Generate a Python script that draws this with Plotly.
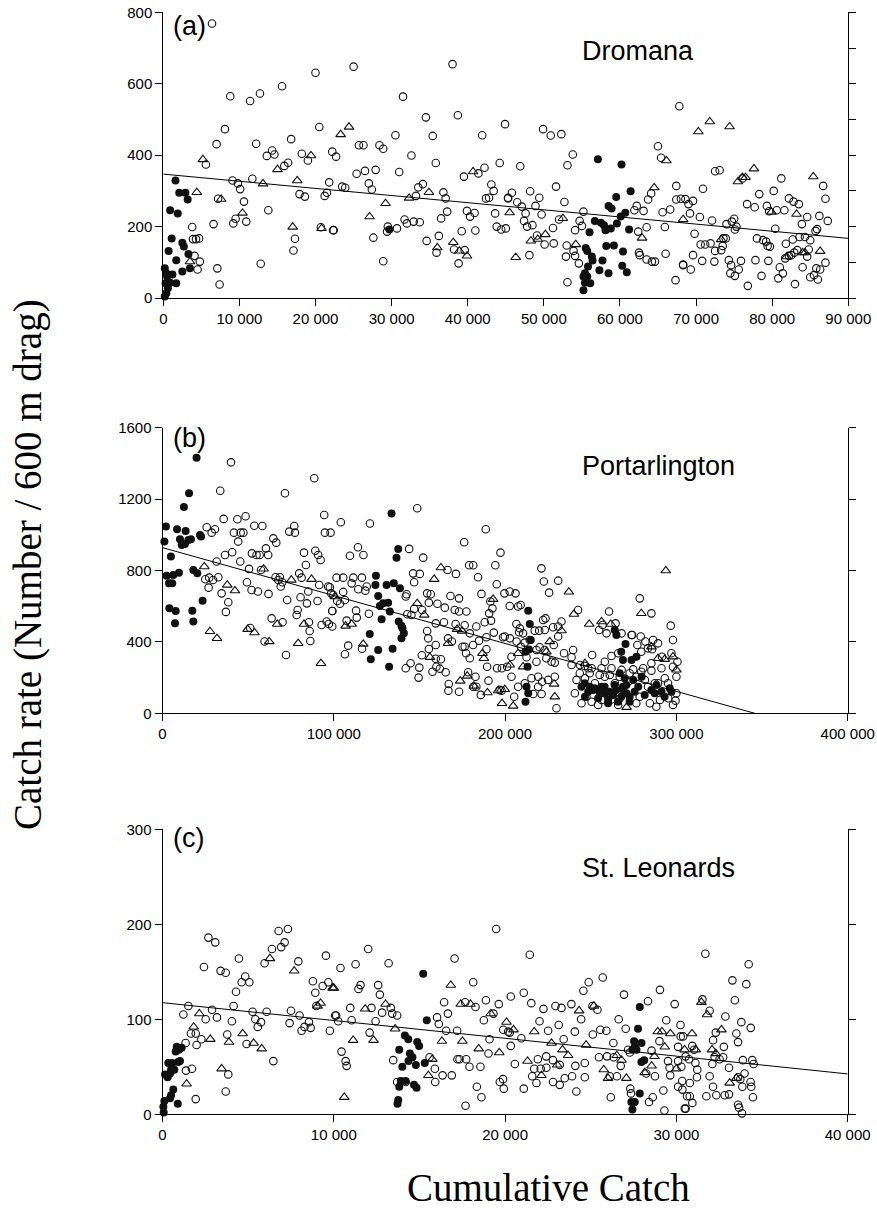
import plotly.graph_objects as go

W, H = 877, 1228

# ---------------- DATA (x in thousands of cumulative catch, y = catch rate) ----------------
# Panel (a) Dromana
dromana_open = [
    (6.4,769),(20.0,631),(8.8,565),(11.4,552),(12.7,573),(15.6,593),(8.1,473),(20.5,479),(7.0,431),(12.2,432),
    (16.8,445),(13.6,398),(14.3,413),(14.6,402),(15.9,370),(16.4,379),(18.2,404),(19.0,385),(22.2,410),(5.6,374),
    (9.1,329),(9.8,321),(10.1,305),(11.7,334),(21.8,324),(17.9,291),(18.6,284),(21.2,286),(21.5,295),(7.2,278),
    (10.6,270),(13.8,246),(9.5,222),(9.2,209),(10.9,214),(6.6,207),(3.8,199),(3.9,165),(4.3,165),(4.7,167),
    (17.3,166),(17.1,133),(22.3,190),(20.7,198),(4.1,118),(4.8,102),(4.5,80),(7.1,83),(12.8,96),(7.4,38),
    (25.0,648),(38.0,655),(31.5,564),(34.5,506),(38.7,512),(44.9,487),(30.5,456),(35.4,454),(41.9,456),(25.7,428),
    (26.3,428),(28.4,428),(28.9,418),(22.7,396),(32.6,399),(35.8,378),(44.2,378),(42.2,365),(41.4,349),(39.5,340),
    (25.4,348),(26.5,356),(27.9,359),(31.0,353),(27.0,321),(27.4,304),(23.5,312),(23.9,309),(33.5,310),(34.1,319),
    (33.2,286),(36.8,296),(37.1,279),(43.1,318),(43.4,300),(42.4,279),(42.8,281),(45.3,279),(37.3,242),(36.5,223),
    (39.9,244),(40.3,228),(40.9,238),(43.6,237),(31.7,220),(32.0,209),(32.9,214),(33.7,212),(29.5,200),(29.4,186),
    (30.7,195),(22.4,190),(27.6,169),(39.2,187),(41.0,189),(43.8,200),(44.4,192),(45.0,195),(34.6,160),(36.2,174),
    (38.2,136),(39.6,134),(35.9,127),(38.8,97),(28.9,103),
    (67.8,537),(49.9,473),(50.9,455),(52.3,459),(65.0,425),(65.4,393),(53.8,402),(53.1,372),(46.9,369),(51.6,312),
    (67.4,314),(48.2,299),(49.4,281),(45.8,295),(45.3,281),(46.5,268),(47.1,256),(48.9,258),(52.7,269),(49.7,234),
    (47.6,237),(47.4,216),(47.8,200),(48.5,204),(52.0,220),(51.2,196),(55.2,242),(54.7,216),(54.1,190),(55.0,202),
    (49.1,175),(50.1,150),(51.3,153),(53.0,147),(53.9,132),(52.9,116),(54.1,118),(54.6,97),(48.1,120),(53.1,44),
    (62.2,258),(61.9,246),(63.1,244),(63.7,276),(64.1,293),(65.6,240),(66.6,248),(67.4,276),(68.0,278),(62.4,186),
    (63.5,198),(65.9,199),(62.5,127),(62.6,120),(63.5,108),(64.2,102),(64.6,102),(66.0,124),(67.3,50),(68.3,92),
    (72.5,355),(73.1,358),(70.9,306),(76.1,335),(81.2,335),(86.7,314),(78.3,291),(80.2,300),(87.0,278),(68.6,277),
    (69.0,263),(69.6,272),(69.2,237),(70.5,227),(72.1,217),(76.7,263),(77.7,254),(79.3,258),(79.6,243),(80.6,246),
    (81.6,246),(82.2,279),(82.8,270),(83.5,263),(84.6,227),(86.2,230),(87.3,216),(83.9,207),(75.0,222),(74.7,214),
    (74.0,207),(75.3,200),(75.1,192),(80.4,194),(69.8,180),(70.6,150),(71.2,150),(71.9,153),(72.5,132),(73.3,134),
    (73.5,146),(73.6,167),(73.9,167),(78.0,167),(78.8,162),(79.2,158),(79.4,146),(79.7,144),(81.8,152),(82.7,164),
    (83.6,171),(84.3,171),(85.0,162),(85.7,188),(85.9,193),(69.6,120),(68.3,94),(69.3,80),(70.8,104),(72.4,102),
    (74.3,106),(74.6,92),(74.5,69),(75.1,62),(75.9,104),(75.6,80),(77.8,106),(78.6,62),(79.5,104),(76.8,34),
    (81.0,86),(81.4,69),(80.8,55),(81.7,111),(82.2,118),(82.5,120),(82.9,127),(83.3,134),(84.0,86),(83.0,39),
    (85.0,58),(85.5,64),(86.0,52),(85.8,83),(86.3,80),(87.0,99),(84.8,136),(84.6,116),
]
dromana_tri = [
    (5.2,388),(4.4,296),(7.6,277),(10.4,238),(13.1,320),(15.0,360),(17.6,329),(19.4,399),(17.0,199),(20.8,195),
    (3.5,102),(24.4,479),(23.3,458),(29.2,265),(27.1,228),(32.3,280),(34.9,296),(40.7,354),(38.1,156),(38.9,132),
    (39.9,118),(36.0,141),(45.5,239),(52.5,223),(50.2,178),(48.3,160),(49.2,165),(46.3,114),(54.2,150),(62.9,168),
    (66.1,385),(64.5,309),(68.3,220),(70.3,466),(71.8,494),(74.4,480),(75.5,326),(76.1,338),(76.5,338),(77.6,362),
    (85.4,340),(79.9,241),(83.2,235),(73.3,164),(81.9,116),(84.0,127),(84.3,127),(86.3,131),
]
dromana_fill = [
    (1.6,329),(2.1,295),(2.9,295),(3.2,276),(0.9,246),(1.9,237),(1.1,167),(2.5,155),(2.7,144),(0.7,132),
    (1.7,106),(3.3,123),(3.5,83),(2.5,74),(1.2,66),(1.7,41),(0.2,83),(0.4,69),(0.5,60),(0.3,41),
    (0.6,27),(0.4,13),(0.2,4),(0.9,43),(29.7,192),
    (57.1,389),(60.2,374),(61.4,299),(59.5,283),(58.5,258),(58.9,251),(60.7,239),(60.1,228),(56.7,216),(57.5,211),
    (57.9,204),(58.1,190),(58.8,195),(59.6,209),(61.2,192),(56.0,184),(55.5,140),(55.7,132),(58.2,146),(59.2,147),
    (60.4,130),(56.3,116),(56.4,105),(57.7,105),(57.3,78),(55.8,88),(55.4,69),(55.7,60),(55.2,60),(56.1,41),
    (55.4,43),(55.2,22),(58.5,69),(60.3,90),(60.9,72),
]
dromana_fit = (347, -2.0)          # intercept, slope (per thousand)

# Panel (b) Portarlington
port_open = [
    (40.0,1406),(88.6,1317),(71.5,1233),(33.7,1247),(35.7,1089),(43.7,1087),(48.5,1104),(53.6,1051),(58.3,1049),(25.8,1042),
    (30.6,1031),(28.7,1012),(41.7,1012),(45.6,1012),(47.2,1012),(44.2,962),(74.0,1018),(77.3,1012),(76.9,1049),(94.4,1111),
    (94.8,1012),(98.1,1012),(64.7,980),(66.4,956),(60.4,924),(36.5,887),(40.7,902),(45.4,850),(52.2,896),(54.9,887),
    (56.7,887),(61.7,887),(31.6,850),(50.5,809),(57.5,803),(82.6,900),(89.2,911),(90.9,887),(92.3,859),(83.7,831),
    (66.0,762),(68.5,762),(69.9,734),(67.6,747),(69.0,710),(79.8,784),(81.2,760),(91.5,719),(96.7,710),(98.5,672),
    (25.0,751),(27.3,760),(29.5,747),(32.6,762),(26.9,704),(49.3,734),(52.0,691),(55.7,682),(61.9,669),(34.5,672),
    (38.4,622),(37.0,568),(72.8,635),(80.6,650),(85.1,682),(84.3,616),(90.5,629),(99.1,573),(78.9,579),(78.3,551),
    (85.5,510),(85.9,461),(86.3,405),(92.9,495),(95.8,514),(97.1,500),(63.7,532),(70.1,510),(51.2,478),(59.6,402),
    (72.1,327),
    (148.7,1149),(104.1,1070),(121.1,1063),(188.7,1031),(176.1,958),(197.3,900),(114.1,930),(109.4,883),(117.3,887),(144.0,921),
    (152.2,872),(179.0,829),(181.4,829),(166.4,803),(171.3,781),(184.2,762),(194.3,829),(195.1,723),(146.3,784),(150.2,781),
    (146.9,734),(101.6,760),(105.5,760),(111.4,760),(116.4,760),(110.4,728),(114.3,695),(119.2,710),(118.4,687),(105.5,680),
    (97.7,706),(99.7,663),(102.0,629),(106.5,635),(103.6,614),(142.5,667),(142.0,654),(154.5,672),(156.6,667),(155.5,620),
    (160.5,614),(164.8,592),(170.6,579),(173.1,570),(177.4,570),(146.9,585),(151.6,579),(142.9,555),(145.3,551),(168.1,657),
    (173.1,644),(186.2,669),(191.4,626),(192.6,588),(190.7,560),(199.6,672),(202.7,682),(99.1,573),(107.5,519),(113.4,536),
    (113.0,575),(120.5,558),(159.5,504),(164.3,510),(171.1,500),(176.4,493),(183.2,486),(188.1,510),(191.8,519),(193.4,452),
    (198.8,426),(154.5,461),(155.1,420),(159.5,383),(166.7,420),(168.9,402),(176.4,373),(181.3,383),(184.8,407),(189.1,426),
    (155.5,360),(151.4,325),(159.5,306),(162.5,303),(159.9,261),(161.9,250),(165.3,230),(142.0,252),(144.8,280),(149.9,256),
    (149.5,200),(157.6,233),(179.4,448),(189.1,359),(178.4,230),(182.7,205),(189.5,261),(195.3,252),(198.1,252),(201.2,261),
    (190.3,183),(196.8,131),(197.9,127),(167.1,164),(166.9,127),(173.1,121),(185.8,103),(181.4,149),(183.2,149),(175.1,373),
    (177.2,336),(179.4,308),(99.1,486),(108.4,379),(106.5,331),(116.5,362),
    (221.2,812),(222.6,738),(231.0,743),(225.7,676),(278.6,644),(285.4,560),(296.7,491),(298.0,411),(300.6,289),(260.7,570),
    (242.6,579),(206.1,672),(202.7,601),(207.6,598),(209.1,607),(206.6,500),(208.6,476),(208.2,454),(210.5,448),(217.3,463),
    (219.9,463),(223.2,467),(222.2,523),(223.6,532),(228.0,482),(231.0,486),(232.9,514),(231.0,430),(228.4,383),(199.8,430),
    (202.8,420),(206.7,402),(209.2,373),(211.5,396),(214.4,411),(218.3,355),(220.2,370),(223.1,355),(203.7,317),(212.5,314),
    (218.3,289),(224.1,308),(227.1,289),(229.0,284),(234.4,336),(239.7,355),(238.8,314),(203.7,205),(207.6,149),(205.3,93),
    (211.5,168),(215.4,196),(219.3,205),(221.6,177),(225.1,187),(229.0,205),(219.3,149),(216.4,108),(221.3,108),(250.8,327),
    (258.2,289),(262.1,321),(266.0,336),(274.2,439),(279.2,430),(281.9,402),(286.4,411),(285.8,359),(289.3,392),(291.6,317),
    (297.1,336),(238.8,271),(243.7,271),(246.6,265),(250.5,252),(256.3,252),(262.1,252),(268.0,243),(274.8,246),(280.6,252),
    (285.4,239),(291.3,252),(298.0,261),(241.7,187),(246.6,196),(252.4,168),(258.2,205),(264.1,168),(271.9,177),(276.7,205),
    (281.6,187),(287.4,168),(293.2,196),(300.0,205),(240.7,112),(247.5,93),(250.5,65),(256.3,75),(262.1,78),(267.0,84),
    (278.6,93),(284.5,56),(290.4,75),(295.2,84),(299.5,71),(230.0,28),(248.5,252),(254.9,467),(256.9,495),(259.2,448),
    (264.5,504),(268.0,448),(273.8,439),(277.2,383),(279.5,345),(283.4,364),(285.4,280),
    (243.6,224),(249.4,224),(255.2,215),(261.1,215),(266.9,205),(272.7,224),(279.5,233),(283.4,149),(289.3,168),(295.1,168),
    (300.0,112),(244.6,56),(254.3,47),(266.0,47),(276.6,56),(288.3,37),(298.0,47),
]
port_tri = [
    (24.4,822),(37.8,719),(42.3,687),(27.7,459),(31.8,420),(49.7,471),(53.7,452),(62.3,402),(59.0,809),(75.2,747),
    (87.0,751),(67.0,500),(82.6,500),(79.2,392),(92.5,280),(100.6,654),(106.9,489),(110.4,500),(117.2,388),(162.5,816),
    (158.6,751),(148.7,616),(152.8,551),(193.0,639),(166.7,392),(172.0,471),(174.9,461),(186.8,336),(187.6,308),(156.1,314),
    (173.8,181),(177.9,209),(181.8,153),(189.7,116),(198.2,56),(195.9,127),(199.8,134),(237.2,680),(240.2,556),(249.1,500),
    (256.3,514),(261.7,500),(279.5,560),(293.8,799),(232.9,463),(226.1,402),(224.1,345),(202.8,271),(210.5,261),(207.6,336),
    (204.7,41),(270.9,34),(229.0,93),(289.3,308),(293.2,303),(298.0,317),(300.0,243),(285.4,373),(246.6,280),(228.6,164),
]
port_fill = [
    (19.9,1432),(15.5,1233),(12.5,1156),(2.0,1046),(8.5,1031),(13.5,1021),(21.9,999),(22.5,990),(1.1,962),(10.2,975),
    (15.1,971),(11.2,943),(13.1,949),(16.6,975),(4.9,878),(2.4,771),(6.3,775),(9.6,788),(3.8,728),(5.7,728),
    (18.0,803),(20.3,784),(4.0,588),(7.7,573),(7.3,504),(17.4,575),(18.0,514),(23.4,631),
    (133.7,1120),(137.6,921),(136.6,872),(124.6,771),(124.3,719),(130.8,719),(135.0,728),(138.6,700),(125.9,657),(128.8,616),
    (126.9,601),(131.7,620),(132.7,570),(127.9,527),(137.9,514),(139.5,491),(140.1,476),(140.9,448),(139.5,420),(121.0,444),
    (125.9,355),(121.6,303),(134.3,362),(132.3,261),
    (213.5,575),(214.4,500),(215.0,411),(211.9,345),(213.1,261),(213.9,358),(212.5,149),(213.5,112),(211.9,65),(264.0,467),
    (265.0,439),(267.8,345),(270.3,388),(268.8,299),(266.9,224),(269.8,196),(268.8,149),(264.9,131),(267.8,93),(265.9,65),
    (272.7,65),(270.8,112),(244.6,149),(248.5,121),(251.4,131),(256.3,149),(258.2,112),(254.3,84),(260.2,78),(246.6,93),
    (274.8,187),(277.7,149),(279.7,205),(285.4,131),(288.4,159),(291.3,121),(296.1,140),(273.8,299),(276.7,317),
    (246.5,168),(249.4,149),(252.3,140),(255.2,121),(258.1,149),(261.0,121),(263.9,159),(263.0,103),(260.1,56),(268.8,134),
    (270.8,159),(272.7,93),(275.6,121),(281.5,103),(287.3,112),(293.1,93),(297.1,121),
]
port_fit = (928, -2.684)

# Panel (c) St. Leonards
stl_open = [
    (2.68,186),(3.08,181),(6.78,193),(7.32,195),(6.93,176),(7.13,181),(6.39,174),(4.46,164),(2.42,155),(3.39,151),
    (3.69,149),(5.96,159),(7.93,161),(9.54,167),(4.83,145),(4.62,139),(5.07,139),(4.29,129),(8.78,140),(8.92,128),
    (9.35,135),(9.68,139),(8.98,114),(1.51,114),(1.22,105),(2.89,110),(2.52,100),(3.18,102),(4.15,114),(4.05,98),
    (5.26,108),(5.42,100),(5.56,92),(5.75,97),(6.08,108),(7.50,109),(7.42,96),(8.00,104),(8.12,88),(8.55,97),
    (8.29,92),(8.65,91),(9.77,88),(1.66,85),(1.94,85),(2.27,79),(1.99,73),(1.35,75),(3.78,84),(4.91,74),
    (6.47,56),(1.37,46),(1.72,48),(3.84,42),(3.69,24),(1.94,16),(10.08,104),
    (19.48,195),(12.01,174),(17.05,164),(10.39,154),(11.27,158),(13.20,159),(18.14,139),(11.56,136),(11.44,132),(12.59,136),
    (12.69,126),(10.96,112),(12.20,112),(12.82,107),(13.33,112),(13.41,106),(13.70,104),(10.14,104),(10.26,98),(11.04,99),
    (12.44,98),(16.44,118),(16.66,106),(16.03,102),(16.13,95),(16.56,88),(17.20,88),(17.67,118),(18.27,113),(18.88,120),
    (19.63,116),(19.32,106),(18.76,99),(19.89,89),(20.27,86),(19.09,79),(12.09,86),(10.45,66),(10.69,56),(10.75,51),
    (13.47,57),(15.59,60),(15.90,48),(16.35,41),(15.92,34),(16.89,41),(17.22,58),(17.34,58),(17.73,58),(17.92,50),
    (18.56,50),(19.03,64),(18.35,29),(18.62,18),(17.69,9),(19.69,34),(19.92,27),(19.88,37),(13.70,34),(14.20,34),
    (21.44,168),(25.70,144),(24.88,139),(24.57,130),(26.94,126),(29.04,131),(20.33,124),(21.09,128),(21.53,117),(22.24,111),
    (22.94,114),(23.29,112),(23.87,116),(25.10,114),(25.39,110),(28.34,119),(29.90,116),(29.41,99),(30.24,94),(24.44,100),
    (22.01,98),(22.51,88),(23.13,94),(24.07,87),(26.63,100),(25.56,89),(25.91,88),(27.04,90),(20.18,87),(20.95,80),
    (20.33,72),(23.42,79),(25.12,84),(26.32,75),(29.01,77),(28.55,67),(30.10,71),(30.25,82),(21.91,58),(22.40,61),
    (22.79,57),(23.19,52),(24.65,54),(24.10,51),(25.48,60),(25.95,61),(26.34,60),(26.75,51),(21.70,48),(22.08,48),
    (22.41,49),(20.57,53),(27.18,68),(27.28,65),(29.51,56),(30.10,56),(29.60,49),(30.29,50),(21.58,40),(23.48,38),
    (23.91,40),(24.65,39),(26.11,40),(26.53,40),(21.83,33),(22.80,34),(23.19,31),(21.09,27),(24.16,24),(26.17,18),
    (27.31,27),(27.35,22),(28.40,13),(28.62,18),(29.24,25),(29.30,4),(30.10,29),(30.49,6),(28.24,43),(28.75,40),
    (29.64,41),(30.34,35),
    (31.69,169),(34.22,158),(33.27,141),(34.08,137),(33.41,120),(31.52,121),(31.94,109),(32.86,103),(33.79,97),(34.34,91),
    (33.50,85),(33.60,76),(30.39,82),(30.93,72),(31.03,68),(32.14,78),(32.30,86),(32.77,71),(32.73,60),(30.54,61),
    (30.74,58),(31.11,54),(31.22,47),(32.10,53),(32.23,60),(32.52,58),(33.07,49),(33.88,57),(34.43,57),(34.51,53),
    (30.78,33),(30.35,26),(31.20,39),(31.94,40),(32.14,29),(31.75,19),(32.33,20),(32.82,20),(33.07,21),(33.60,39),
    (33.73,37),(33.85,29),(34.33,34),(34.37,29),(34.47,18),(33.98,43),(30.62,19),(30.78,19),(30.93,12),(30.54,6),
    (33.60,10),(33.66,7),(33.83,1),
]
stl_tri = [
    (6.27,164),(7.69,151),(9.93,133),(9.23,117),(9.05,114),(2.15,106),(1.82,92),(2.79,79),(3.88,76),(4.68,85),
    (5.32,75),(5.79,69),(3.45,48),(1.41,32),(10.00,133),(11.83,111),(13.02,116),(16.83,136),(17.41,116),(17.98,116),
    (19.16,106),(20.08,97),(11.13,78),(12.32,78),(13.58,90),(16.31,77),(17.51,77),(18.46,69),(19.66,65),(15.75,58),
    (15.52,41),(10.61,18),(20.49,89),(21.70,87),(22.71,75),(23.35,68),(23.68,62),(24.73,73),(26.52,62),(26.80,57),
    (21.31,56),(22.12,41),(23.04,52),(25.76,47),(26.01,38),(27.08,38),(24.32,109),(25.18,114),(28.55,51),(28.72,61),
    (28.15,44),(28.91,87),(29.16,87),(29.65,85),(29.32,71),(30.00,48),(30.48,68),(30.91,85),(31.13,68),(32.08,68),
    (32.30,64),(32.63,89),(31.46,118),(31.79,105),(33.11,33),(33.50,38),
]
stl_fill = [
    (0.83,71),(0.96,68),(1.12,70),(0.77,66),(0.34,54),(0.58,54),(0.92,55),(1.02,56),(0.50,47),(0.69,47),
    (0.15,42),(0.30,39),(0.44,43),(0.63,26),(0.50,20),(0.44,17),(0.89,11),(0.11,14),(0.05,8),(0.07,2),
    (15.22,148),(15.43,99),(14.15,83),(14.35,79),(14.87,76),(14.98,72),(13.82,68),(14.44,64),(14.59,60),(14.36,56),
    (14.79,52),(14.00,50),(15.31,54),(14.68,31),(14.83,28),(13.91,35),(14.19,35),(13.82,29),(13.76,15),(13.72,11),
    (27.86,113),(27.76,90),(27.53,77),(27.96,75),(27.57,71),(27.67,68),(27.43,68),(27.96,55),(28.12,57),(27.86,22),
    (27.37,13),(27.57,13),(27.43,5),
]
stl_fit = (117.5, -1.875)

# tick labels
a_xticks = [0, 10, 20, 30, 40, 50, 60, 70, 80, 90]
a_xtext = ["0", "10 000", "20 000", "30 000", "40 000", "50 000", "60 000", "70 000", "80 000", "90 000"]
b_xticks = [0, 100, 200, 300, 400]
b_xtext = ["0", "100 000", "200 000", "300 000", "400 000"]
c_xticks = [0, 10, 20, 30, 40]
c_xtext = ["0", "10 000", "20 000", "30 000", "40 000"]
a_yticks = [0, 200, 400, 600, 800]
b_yticks = [0, 400, 800, 1200, 1600]
c_yticks = [0, 100, 200, 300]
a_right_ticks = [0, 100, 200, 300, 400, 500, 600, 700, 800]

panels = [
    dict(name="Dromana", label="(a)", open=dromana_open, tri=dromana_tri, fill=dromana_fill, fit=dromana_fit,
         xr=[0, 90], yr=[0, 800], xt=a_xticks, xtt=a_xtext, yt=a_yticks, rt=a_right_ticks,
         xpx=(163.3, 848.3), ypx=(12.4, 298.0), lab_y=26, name_y=51),
    dict(name="Portarlington", label="(b)", open=port_open, tri=port_tri, fill=port_fill, fit=port_fit,
         xr=[0, 400], yr=[0, 1600], xt=b_xticks, xtt=b_xtext, yt=b_yticks, rt=b_yticks,
         xpx=(162.5, 847.7), ypx=(427.7, 713.3), lab_y=438, name_y=466),
    dict(name="St. Leonards", label="(c)", open=stl_open, tri=stl_tri, fill=stl_fill, fit=stl_fit,
         xr=[0, 40], yr=[0, 300], xt=c_xticks, xtt=c_xtext, yt=c_yticks, rt=c_yticks,
         xpx=(162.5, 847.7), ypx=(829.3, 1114.3), lab_y=838, name_y=868),
]

TICKFONT = dict(family="Liberation Sans, Arial, sans-serif", size=15, color="#000")
fig = go.Figure()
layout = {}
annotations = []

for i, p in enumerate(panels):
    k = i + 1
    xs = "" if k == 1 else str(k)
    xname, yname = "x" + xs, "y" + xs
    rname = "y" + str(k + 3)
    for pts, sym, size, lw in [(p["open"], "circle-open", 7.5, 1.1),
                               (p["tri"], "triangle-up-open", 8.5, 1.1),
                               (p["fill"], "circle", 8, 0)]:
        fig.add_trace(go.Scatter(
            x=[q[0] for q in pts], y=[q[1] for q in pts], mode="markers",
            xaxis=xname, yaxis=yname, cliponaxis=False, showlegend=False, hoverinfo="skip",
            marker=dict(symbol=sym, size=size, color="#111", line=dict(width=lw, color="#111"))))
    a0, slope = p["fit"]
    x_end = p["xr"][1]
    if a0 + slope * x_end < 0:
        x_end = -a0 / slope
    fig.add_trace(go.Scatter(
        x=[0, x_end], y=[a0, a0 + slope * x_end], mode="lines",
        xaxis=xname, yaxis=rname, showlegend=False, hoverinfo="skip",
        line=dict(color="#000", width=1)))

    xdom = [p["xpx"][0] / W, p["xpx"][1] / W]
    ydom = [1 - p["ypx"][1] / H, 1 - p["ypx"][0] / H]
    common = dict(showline=True, linecolor="#000", linewidth=1, ticks="outside", ticklen=7, tickwidth=1,
                  tickcolor="#000", showgrid=False, zeroline=False, automargin=False, fixedrange=True)
    layout["xaxis" + xs] = dict(domain=xdom, range=p["xr"], anchor=yname, tickvals=p["xt"], ticktext=p["xtt"],
                                tickfont=TICKFONT, **common)
    layout["yaxis" + xs] = dict(domain=ydom, range=p["yr"], anchor=xname, tickvals=p["yt"],
                                tickfont=TICKFONT, **common)
    layout["yaxis" + str(k + 3)] = dict(overlaying=yname, anchor=xname, side="right", range=p["yr"],
                                       tickvals=p["rt"], showticklabels=False, **common)
    annotations.append(dict(text=p["label"], xref="paper", yref="paper", x=171 / W, y=1 - p["lab_y"] / H,
                            xanchor="left", yanchor="middle", showarrow=False,
                            font=dict(family="Liberation Sans, Arial, sans-serif", size=27, color="#000")))
    annotations.append(dict(text=p["name"], xref="paper", yref="paper", x=580 / W, y=1 - p["name_y"] / H,
                            xanchor="left", yanchor="middle", showarrow=False,
                            font=dict(family="Liberation Sans, Arial, sans-serif", size=27, color="#000")))

annotations.append(dict(text="Catch rate (Number / 600 m drag)", xref="paper", yref="paper",
                        x=28 / W, y=1 - 565 / H, xanchor="center", yanchor="middle", textangle=-90,
                        showarrow=False, font=dict(family="Liberation Serif, Times New Roman, serif", size=39, color="#000")))
annotations.append(dict(text="Cumulative Catch", xref="paper", yref="paper",
                        x=548 / W, y=1 - 1187 / H, xanchor="center", yanchor="middle",
                        showarrow=False, font=dict(family="Liberation Serif, Times New Roman, serif", size=39, color="#000")))

fig.update_layout(width=W, height=H, margin=dict(l=0, r=0, t=0, b=0, autoexpand=False), paper_bgcolor="white",
                  plot_bgcolor="white", showlegend=False, annotations=annotations, **layout)
fig.write_html("out.html", include_plotlyjs=True, config={"displayModeBar": False, "staticPlot": True},
               post_script="document.body.style.margin='0';document.body.style.overflow='hidden';"
                           "document.documentElement.style.overflow='hidden';")
